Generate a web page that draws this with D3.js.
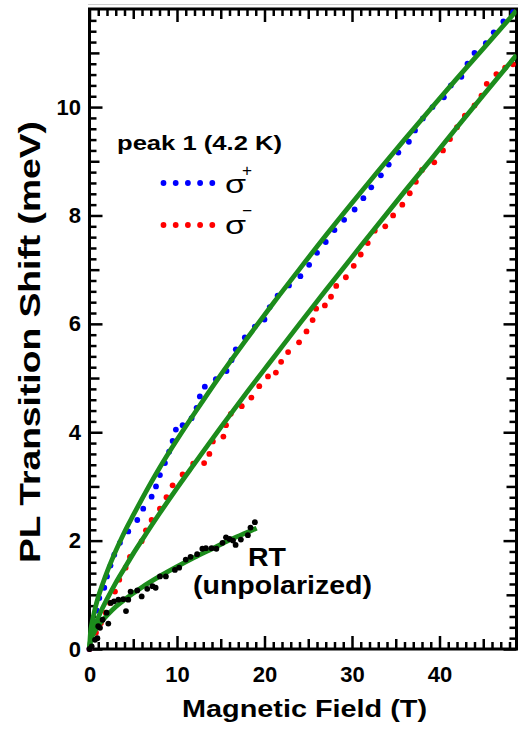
<!DOCTYPE html>
<html>
<head>
<meta charset="utf-8">
<script src="https://cdn.jsdelivr.net/npm/d3@7"></script>
<style>
  html, body { margin: 0; padding: 0; background: #fff; }
  svg { display: block; }
  text { font-family: "Liberation Sans", Arial, Helvetica, sans-serif; }
</style>
</head>
<body>
<svg id="chart" width="518" height="729"></svg>
<script>
// Measured PL transition shift (meV) versus magnetic field (T)
const sigmaPlus = [
  [0,0],[0.43,0.51],[0.82,0.71],[1.12,0.94],[1.69,1.13],[2.0,1.34],[2.4,1.54],[2.83,1.74],
  [3.48,1.96],[4.43,2.17],[5.46,2.38],[6.14,2.59],[7.1,2.81],[7.6,3.0],[8.05,3.21],[8.62,3.43],
  [9.1,3.64],[9.5,3.84],[9.87,4.05],[10.64,4.13],[11.67,4.26],[12.24,4.45],[12.61,4.66],
  [13.18,4.84],[14.44,4.98],[15.66,5.13],[16.23,5.33],[16.72,5.53],[17.75,5.75],[18.9,5.95],
  [20.0,6.08],[20.6,6.31],[21.5,6.52],[22.8,6.71],[24.1,6.88],[25.1,7.09],[26.0,7.31],
  [27.0,7.51],[28.0,7.73],[29.1,7.92],[30.3,8.11],[31.3,8.32],[32.2,8.52],[33.3,8.74],
  [34.2,8.94],[35.3,9.16],[36.5,9.36],[37.2,9.57],[38.1,9.79],[39.2,10.0],[40.5,10.18],
  [41.3,10.40],[42.5,10.56],[43.2,10.80],[44.0,11.0],[45.3,11.18],[46.2,11.38],[47.3,11.58],
  [48.4,11.75]
];
const sigmaMinus = [
  [0,0],[0.74,0.30],[1.31,0.48],[1.85,0.67],[2.34,0.85],[2.91,1.06],[3.4,1.28],[4.13,1.50],
  [4.62,1.70],[5.96,1.99],[6.45,2.19],[7.1,2.38],[8.05,2.59],[8.8,2.80],[9.5,3.02],
  [10.64,3.22],[11.85,3.42],[13.1,3.43],[13.7,3.60],[14.1,3.83],[15.3,3.92],[15.6,4.13],
  [16.15,4.34],[17.4,4.48],[18.5,4.64],[19.4,4.85],[20.4,5.03],[21.3,5.10],[21.9,5.30],
  [22.7,5.48],[23.95,5.66],[24.8,5.86],[25.5,6.07],[25.9,6.28],[26.9,6.34],[27.6,6.50],
  [28.2,6.70],[29.3,6.86],[30.2,7.07],[31.0,7.28],[31.8,7.49],[32.6,7.72],[33.8,7.80],
  [34.7,8.0],[35.75,8.20],[36.6,8.41],[37.3,8.62],[38.0,8.84],[39.4,8.98],[40.4,9.20],
  [41.2,9.41],[42.0,9.63],[42.9,9.84],[44.0,10.03],[44.8,10.21],[45.4,10.43],[46.5,10.61],
  [47.5,10.73],[48.4,10.79]
];
const roomTemp = [
  [0,0],[0.25,0.05],[0.63,0.17],[0.9,0.2],[1.0,0.42],[1.2,0.39],[1.5,0.54],[1.96,0.67],
  [2.15,0.47],[2.42,0.85],[2.8,0.88],[3.3,0.91],[3.86,0.92],[4.17,0.70],[4.43,0.91],
  [4.7,1.06],[5.46,1.08],[5.96,0.97],[6.6,1.11],[7.2,1.16],[7.56,1.13],[8.05,1.34],
  [8.73,1.34],[9.76,1.46],[10.25,1.50],[11.0,1.65],[11.55,1.70],[12.3,1.75],[12.9,1.85],
  [13.3,1.86],[13.95,1.86],[14.5,1.85],[15.2,1.96],[15.6,2.06],[16.0,2.03],[16.4,2.0],
  [16.7,1.92],[17.3,2.02],[18.1,2.10],[18.4,2.24],[18.9,2.34]
];

// Fitted curves, sampled along the field axis
const fitSigmaPlus = [
  [0,0],[0.1,0.28],[0.3,0.49],[0.6,0.72],[1,0.96],[1.5,1.20],[2,1.42],[3,1.81],[4,2.16],
  [5,2.47],[6,2.77],[8,3.34],[10,3.86],[12,4.35],[15,5.06],[18,5.73],[21,6.38],[24,7.01],
  [27,7.63],[30,8.23],[33,8.82],[36,9.40],[39,9.97],[42,10.53],[45,11.08],[48.8,11.78]
];
const fitSigmaMinus = [
  [0,0],[0.1,0.15],[0.3,0.28],[0.6,0.42],[1,0.58],[1.5,0.76],[2,0.92],[3,1.22],[4,1.49],
  [5,1.76],[6,2.01],[8,2.50],[10,2.97],[12,3.42],[15,4.09],[18,4.74],[21,5.37],[24,6.00],
  [27,6.62],[30,7.23],[33,7.84],[36,8.44],[39,9.03],[42,9.63],[45,10.22],[48.8,10.96]
];
const fitRoomTemp = [
  [0,0],[0.1,0.13],[0.3,0.23],[0.6,0.33],[1,0.43],[1.5,0.53],[2,0.62],[3,0.78],[4,0.91],
  [6,1.14],[8,1.34],[10,1.52],[12,1.69],[14,1.85],[16,2.01],[18,2.15],[19.1,2.23]
];

const xLabelTicks = [0, 10, 20, 30, 40];
const yLabelTicks = [0, 2, 4, 6, 8, 10];

const svg = d3.select("#chart");
const plotLeft = 89.5, plotRight = 516.5, plotTop = 9, plotBottom = 649;

const x = d3.scaleLinear().domain([0, 48.8]).range([plotLeft, plotRight]);
const y = d3.scaleLinear().domain([0, 11.81]).range([plotBottom, plotTop]);

// tick sets: minor / medium / major
const xMinor = d3.range(0, 49, 1).filter(v => v % 5 !== 0);
const xMedium = d3.range(5, 49, 10);
const yMinor = d3.range(0, 59).map(i => +(i * 0.2).toFixed(1)).filter(v => Math.abs(v - Math.round(v)) > 1e-6);
const yMedium = [1, 3, 5, 7, 9, 11];

const tickSizes = { minor: 7, medium: 10, major: 13 };

function drawTicks(axisFn, scale, translate, values, size) {
  const axis = axisFn(scale).tickValues(values).tickSize(-size).tickFormat("");
  const g = svg.append("g").attr("transform", translate);
  g.call(axis);
  g.select(".domain").remove();
  g.selectAll(".tick line").attr("stroke", "#000").attr("stroke-width", 2.5);
  return g;
}

[[xMinor, tickSizes.minor], [xMedium, tickSizes.medium], [xLabelTicks, tickSizes.major]].forEach(([v, s]) => {
  drawTicks(d3.axisBottom, x, `translate(0,${plotBottom})`, v, s);
  drawTicks(d3.axisTop, x, `translate(0,${plotTop})`, v, s);
});
[[yMinor, tickSizes.minor], [yMedium, tickSizes.medium], [yLabelTicks, tickSizes.major]].forEach(([v, s]) => {
  drawTicks(d3.axisLeft, y, `translate(${plotLeft},0)`, v, s);
  drawTicks(d3.axisRight, y, `translate(${plotRight},0)`, v, s);
});

// tick labels
const gxText = svg.append("g").attr("transform", `translate(0,${plotBottom})`)
  .call(d3.axisBottom(x).tickValues(xLabelTicks).tickSize(0).tickPadding(17).tickFormat(d3.format("d")));
gxText.select(".domain").remove();
gxText.selectAll("text")
  .attr("fill", "#000")
  .style("font-family", '"Liberation Sans", Arial, sans-serif')
  .style("font-size", "22px").style("font-weight", "bold");

const gyText = svg.append("g").attr("transform", `translate(${plotLeft},0)`)
  .call(d3.axisLeft(y).tickValues(yLabelTicks).tickSize(0).tickPadding(8.5).tickFormat(d3.format("d")));
gyText.select(".domain").remove();
gyText.selectAll("text")
  .attr("fill", "#000")
  .style("font-family", '"Liberation Sans", Arial, sans-serif')
  .style("font-size", "22px").style("font-weight", "bold");

// plot frame
svg.append("line").attr("x1", 88).attr("x2", 518).attr("y1", 4.5).attr("y2", 4.5)
  .attr("stroke", "#cfcfcf").attr("stroke-width", 1);
svg.append("rect")
  .attr("x", plotLeft).attr("y", plotTop)
  .attr("width", plotRight - plotLeft).attr("height", plotBottom - plotTop)
  .attr("fill", "none").attr("stroke", "#000").attr("stroke-width", 3);

// data
svg.append("clipPath").attr("id", "plot-clip")
  .append("rect").attr("x", plotLeft - 6).attr("y", plotTop)
  .attr("width", plotRight - plotLeft + 6).attr("height", plotBottom - plotTop + 4);

const plot = svg.append("g").attr("clip-path", "url(#plot-clip)");

const line = d3.line().x(d => x(d[0])).y(d => y(d[1])).curve(d3.curveMonotoneX);
const green = "#1c8c1c";
const dotR = 2.9;

function dots(data, color) {
  plot.append("g").selectAll("circle").data(data).join("circle")
    .attr("cx", d => x(d[0])).attr("cy", d => y(d[1])).attr("r", dotR).attr("fill", color);
}

dots(sigmaPlus, "#0000ff");
dots(sigmaMinus, "#ff0000");

[fitSigmaPlus, fitSigmaMinus, fitRoomTemp].forEach(f => {
  plot.append("path").datum(f).attr("d", line)
    .attr("fill", "none").attr("stroke", green).attr("stroke-width", 4.8)
    .attr("stroke-linecap", "butt").attr("stroke-linejoin", "round");
});

dots(roomTemp, "#000000");

// axis titles
svg.append("text")
  .attr("x", 182).attr("y", 717)
  .attr("textLength", 245).attr("lengthAdjust", "spacingAndGlyphs")
  .style("font-size", "24px").style("font-weight", "bold")
  .text("Magnetic Field (T)");

svg.append("text")
  .attr("transform", "translate(40,563) rotate(-90)")
  .attr("textLength", 442).attr("lengthAdjust", "spacingAndGlyphs")
  .style("font-size", "29px").style("font-weight", "bold")
  .text("PL Transition Shift (meV)");

// legend
svg.append("text")
  .attr("x", 117).attr("y", 150)
  .attr("textLength", 165).attr("lengthAdjust", "spacingAndGlyphs")
  .style("font-size", "21px").style("font-weight", "bold")
  .text("peak 1 (4.2 K)");

const legendRows = [
  { color: "#0000ff", cy: 183, base: 193, sup: "+", supBase: 176 },
  { color: "#ff0000", cy: 225, base: 234, sup: "\u2212", supBase: 216 }
];
legendRows.forEach(r => {
  svg.append("g").selectAll("circle").data(d3.range(5)).join("circle")
    .attr("cx", i => 163.5 + i * 12.2).attr("cy", r.cy).attr("r", dotR).attr("fill", r.color);
  svg.append("text").attr("x", 225).attr("y", r.base)
    .attr("textLength", 21).attr("lengthAdjust", "spacingAndGlyphs")
    .style("font-size", "26px").text("\u03c3");
  svg.append("text").attr("x", 242).attr("y", r.supBase)
    .attr("textLength", 10).attr("lengthAdjust", "spacingAndGlyphs")
    .style("font-size", "16px").text(r.sup);
});

// room temperature annotation
svg.append("text")
  .attr("x", 248).attr("y", 566)
  .attr("textLength", 38).attr("lengthAdjust", "spacingAndGlyphs")
  .style("font-size", "26px").style("font-weight", "bold")
  .text("RT");
svg.append("text")
  .attr("x", 193).attr("y", 594)
  .attr("textLength", 179).attr("lengthAdjust", "spacingAndGlyphs")
  .style("font-size", "25px").style("font-weight", "bold")
  .text("(unpolarized)");
</script>
</body>
</html>
